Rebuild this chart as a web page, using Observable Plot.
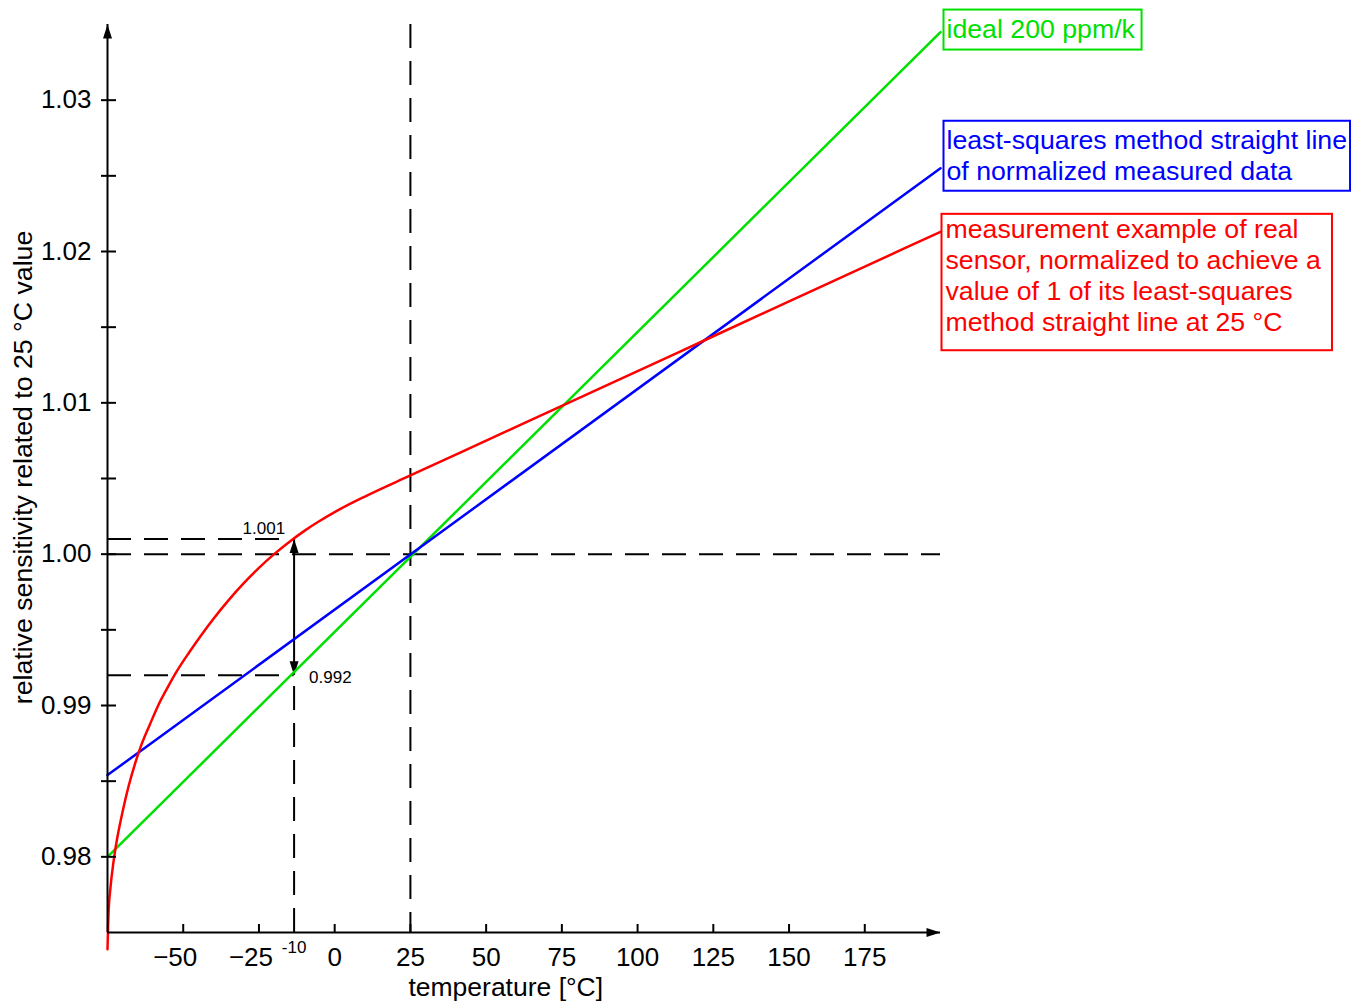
<!DOCTYPE html>
<html>
<head>
<meta charset="utf-8">
<script src="https://cdn.jsdelivr.net/npm/d3@7"></script>
<script src="https://cdn.jsdelivr.net/npm/@observablehq/plot@0.6"></script>
<style>
  body { margin: 0; background: #fff; }
</style>
</head>
<body>
<div id="chart"></div>
<script>
// ---------- data ----------
const tempTicks = [-50, -25, 0, 25, 50, 75, 100, 125, 150, 175];
const sensTicksMajor = [0.98, 0.99, 1.00, 1.01, 1.02, 1.03];
const sensTicksAll = [0.98, 0.985, 0.99, 0.995, 1.00, 1.005, 1.01, 1.015, 1.02, 1.025, 1.03];

const tempDomain = [-75, 200];
const sensDomain = [0.975, 1.035];

// ideal 200 ppm/K line (end points)
const idealT = [-75, 200];
const idealV = [0.9800, 1.0345];

// least-squares straight line (end points)
const lsqT = [-75, 200];
const lsqV = [0.9854, 1.0255];

// measured, normalized sensor curve
const measT = [-75, -74.7, -74, -73, -72, -70, -68, -66, -64, -61, -58, -55, -52, -48, -44, -40, -35, -30, -25, -20, -15, -10, -5, 0, 10, 25, 50, 75, 100, 125, 150, 175, 200];
const measV = [0.9739, 0.9761, 0.9780, 0.9797, 0.9810, 0.9830, 0.9847, 0.9861, 0.9873, 0.98875, 0.99012, 0.99125, 0.9923, 0.99352, 0.99466, 0.99573, 0.99696, 0.99808, 0.99909, 1.0000, 1.00081, 1.00154, 1.00219, 1.00278, 1.00381, 1.0052, 1.0075, 1.0098, 1.0121, 1.0144, 1.0167, 1.0190, 1.0213];

// reference point and the annotated span
const refT = 25, refV = 1.00;
const markT = -13.4;            // where the reference draws its "-10" guide
const markLabel = "-10";
const markHigh = 1.001, markLow = 0.992;
const markHighLabel = "1.001", markLowLabel = "0.992";

const xTitle = "temperature [°C]";
const yTitle = "relative sensitivity related to 25 °C value";

const legendTexts = [
  "ideal 200 ppm/k",
  "least-squares method straight line\nof normalized measured data",
  "measurement example of real\nsensor, normalized to achieve a\nvalue of 1 of its least-squares\nmethod straight line at 25 °C"
];

// ---------- styles ----------
const FONT = "'Liberation Sans', Arial, Helvetica, sans-serif";
const GREEN = "#00e000", BLUE = "#0000ff", RED = "#ff0000";
const DASH = "24,13";

const toRows = (T, V) => T.map((t, i) => ({t, v: V[i]}));
const ideal = toRows(idealT, idealV);
const lsq = toRows(lsqT, lsqV);
const meas = toRows(measT, measV);

const [xMin, xMax] = tempDomain;
const [yMin, yMax] = sensDomain;
const negTicks = tempTicks.filter(d => d < 0);
const posTicks = tempTicks.filter(d => d >= 0);

// slim filled arrowhead, tip at origin pointing up
const head = {
  draw(ctx) {
    ctx.moveTo(0, 0);
    ctx.lineTo(-4.5, 14);
    ctx.lineTo(4.5, 14);
    ctx.closePath();
  }
};

const legend = [
  {text: legendTexts[0], row: ideal[ideal.length - 1], color: GREEN, dx: 6, dy: -16, pad: [4.5, 6, 5.5, 3]},
  {text: legendTexts[1], row: lsq[lsq.length - 1], color: BLUE, dx: 6, dy: -41, pad: [4.5, 3, 4.5, 3]},
  {text: legendTexts[2], row: meas[meas.length - 1], color: RED, dx: 5, dy: -15.5, pad: [0.5, 11, 13, 4]}
];

const plot = Plot.plot({
  width: 1351,
  height: 1003,
  marginLeft: 107,
  marginRight: 411,
  marginTop: 24,
  marginBottom: 71,
  x: {domain: tempDomain},
  y: {domain: sensDomain},
  style: {fontFamily: FONT, background: "#fff", color: "#000", overflow: "visible"},
  marks: [
    // dashed guides
    Plot.ruleY([refV], {x1: xMin, x2: xMax, stroke: "#000", strokeWidth: 2, strokeDasharray: DASH}),
    Plot.ruleX([refT], {stroke: "#000", strokeWidth: 2, strokeDasharray: DASH}),
    Plot.ruleY([markHigh, markLow], {x1: xMin, x2: markT, stroke: "#000", strokeWidth: 2, strokeDasharray: DASH}),
    Plot.ruleX([markT], {y1: yMin, y2: markLow, stroke: "#000", strokeWidth: 2, strokeDasharray: DASH}),

    // double arrow between 1.001 and 0.992
    Plot.ruleX([markT], {y1: markLow, y2: markHigh, stroke: "#000", strokeWidth: 2}),
    Plot.dot([{t: markT, v: markHigh, r: 0}, {t: markT, v: markLow, r: 180}],
      {x: "t", y: "v", rotate: "r", symbol: head, fill: "#000", stroke: "none"}),

    // curves
    Plot.line(ideal, {x: "t", y: "v", stroke: GREEN, strokeWidth: 2.5}),
    Plot.line(lsq, {x: "t", y: "v", stroke: BLUE, strokeWidth: 2.5}),
    Plot.line(meas, {x: "t", y: "v", stroke: RED, strokeWidth: 2.5, curve: "monotone-x"}),

    // axes lines with arrowheads
    Plot.ruleY([yMin], {x1: xMin, x2: xMax, stroke: "#000", strokeWidth: 2}),
    Plot.ruleX([xMin], {y1: yMin, y2: yMax, stroke: "#000", strokeWidth: 2}),
    Plot.dot([{t: xMax, v: yMin, r: 90}, {t: xMin, v: yMax, r: 0}],
      {x: "t", y: "v", rotate: "r", symbol: head, fill: "#000", stroke: "none"}),

    // ticks (crossing the y axis, upward on the x axis)
    Plot.axisY(sensTicksAll, {anchor: "left", tickSize: 15, dx: 9, fill: "none", strokeWidth: 2, label: null}),
    Plot.axisY(sensTicksMajor, {anchor: "left", tickSize: 0, tickPadding: 16, tickFormat: d3.format(".2f"), fontSize: 26, label: null}),
    Plot.axisX(tempTicks, {anchor: "bottom", tickSize: 8, dy: -8, fill: "none", strokeWidth: 2, label: null}),
    // labels: the minus sign hangs to the left of the centred digits
    Plot.axisX(posTicks, {anchor: "bottom", tickSize: 0, tickPadding: 15, fontSize: 26, label: null}),
    Plot.axisX(negTicks, {anchor: "bottom", tickSize: 0, tickPadding: 15, fontSize: 26, dx: -8, label: null}),

    // annotation texts
    Plot.text([markLabel], {x: markT, frameAnchor: "bottom", dy: 20, lineAnchor: "bottom", fontSize: 17}),
    Plot.text([markHighLabel], {x: markT, y: markHigh, textAnchor: "end", lineAnchor: "bottom", dx: -9, dy: -5, fontSize: 17}),
    Plot.text([markLowLabel], {x: markT, y: markLow, textAnchor: "start", lineAnchor: "bottom", dx: 15, dy: 8, fontSize: 17}),

    // axis titles
    Plot.text([xTitle], {x: refT, frameAnchor: "bottom", textAnchor: "start", lineAnchor: "bottom", dx: -2, dy: 63, fontSize: 26.5}),
    Plot.text([yTitle], {frameAnchor: "left", rotate: -90, textAnchor: "middle", lineAnchor: "bottom", dx: -76, dy: -11, fontSize: 26.7}),

    // legend labels at the line ends
    ...legend.map(L => Plot.text([L.row], {
      x: "t", y: "v", text: () => L.text, textAnchor: "start", lineAnchor: "top",
      dx: L.dx, dy: L.dy, fill: L.color, fontSize: 26.7, lineHeight: 1.16
    }))
  ]
});

document.getElementById("chart").append(plot);

// frame boxes around the legend labels
const svgBox = plot.getBoundingClientRect();
const allTexts = Array.from(plot.querySelectorAll("text"));
legend.forEach(L => {
  const first = L.text.split("\n")[0];
  const t = allTexts.find(el => el.textContent.startsWith(first));
  if (!t) return;
  const r = t.getBoundingClientRect();
  const [pt, pr, pb, pl] = L.pad;
  d3.select(plot).append("rect")
    .attr("x", r.left - svgBox.left - pl)
    .attr("y", r.top - svgBox.top - pt)
    .attr("width", r.width + pl + pr)
    .attr("height", r.height + pt + pb)
    .attr("fill", "none")
    .attr("stroke", L.color)
    .attr("stroke-width", 2);
});
</script>
</body>
</html>
